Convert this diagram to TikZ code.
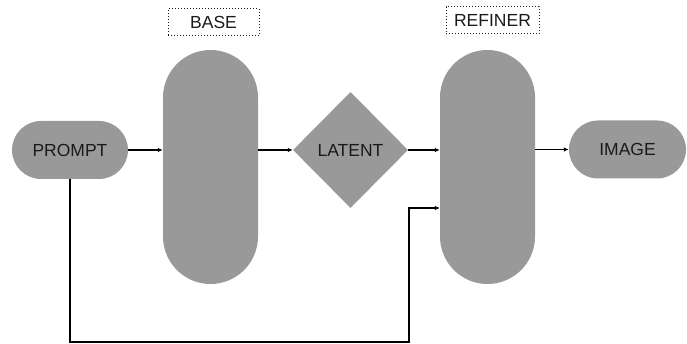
\documentclass[tikz,border=0pt]{standalone}
\usepackage{fontspec}
\setmainfont{Liberation Sans}
\usetikzlibrary{shapes.geometric,arrows.meta}
\definecolor{boxgray}{HTML}{999999}
\definecolor{txt}{HTML}{1A1A1A}
\begin{document}
\begin{tikzpicture}[x=1pt,y=-1pt,
  every node/.style={font=\fontsize{17.5}{20}\selectfont, text=txt},
  pill/.style={fill=boxgray, draw=none, inner sep=0pt},
  tagbox/.style={draw=txt, dotted, line width=1pt, inner sep=0pt},
  conn/.style={line width=1.3pt, draw=black, -{Latex[length=5pt,width=4.5pt]}},
  plainconn/.style={line width=1.3pt, draw=black}]
\useasboundingbox (0,0) rectangle (687,344);
\node[pill, minimum width=116pt, minimum height=58pt, rounded corners=29pt] (prompt) at (70,150) {PROMPT};
\node[pill, minimum width=95pt, minimum height=234pt, rounded corners=47.5pt] (base) at (210.5,167) {};
\node[pill, diamond, aspect=1, minimum width=115pt, minimum height=116pt] (latent) at (350.5,150) {LATENT};
\node[pill, minimum width=95pt, minimum height=234pt, rounded corners=47.5pt] (refiner) at (487.5,167) {};
\node[pill, minimum width=117pt, minimum height=58pt, rounded corners=29pt] (image) at (627.5,149.5) {IMAGE};
\node[tagbox, minimum width=91pt, minimum height=27pt] (basetag) at (213.5,22.5) {BASE};
\node[tagbox, minimum width=93pt, minimum height=27pt] (reftag) at (492.5,20.5) {REFINER};
\coordinate (c1) at (70,342);
\coordinate (c2) at (409,342);
\coordinate (c3) at (409,208);
\draw[conn] (prompt.east) -- (prompt.east -| base.west);
\draw[conn] (base.east |- latent.west) -- (latent.west);
\draw[conn] (latent.east) -- (latent.east -| refiner.west);
\draw[conn] (refiner.east |- image.west) -- (image.west);
\draw[conn] (prompt.south) -- (c1) -- (c2) -- (c3) -- (c3 -| refiner.west);
\end{tikzpicture}
\end{document}
